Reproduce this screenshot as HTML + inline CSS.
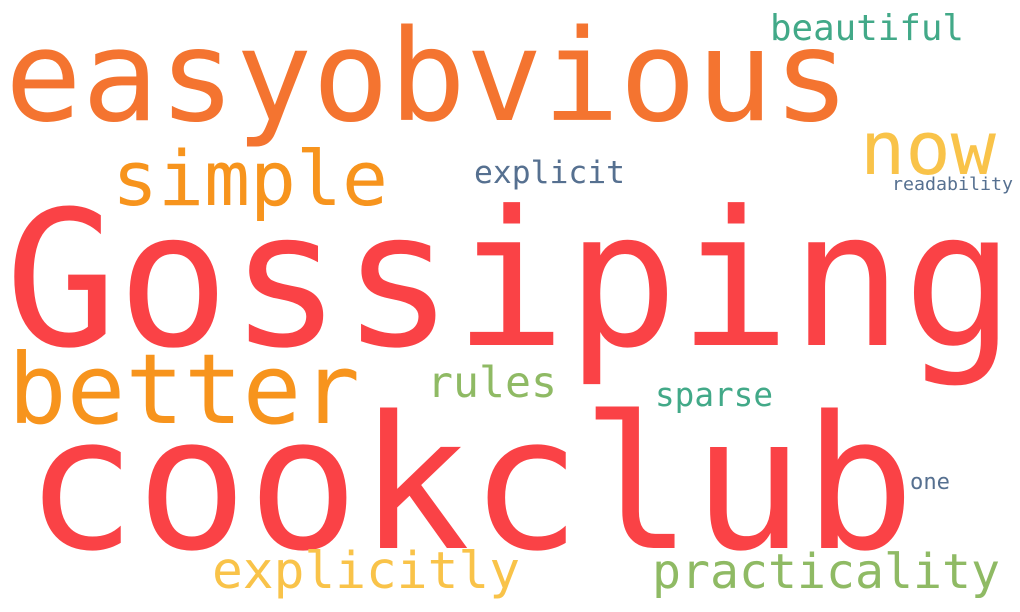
<!DOCTYPE html>
<html><head><meta charset="utf-8"><style>
html,body{margin:0;padding:0;background:#fff}
svg{display:block}
text{font-family:"DejaVu Sans Mono","Liberation Mono",monospace}
</style></head><body>
<svg width="1020" height="612" viewBox="0 0 1020 612">
<rect width="1020" height="612" fill="#fff"/>
<text x="5" y="120" font-size="127" fill="#F47430" textLength="845" lengthAdjust="spacingAndGlyphs">easyobvious</text>
<text x="770" y="40" font-size="36" fill="#42A988" textLength="194" lengthAdjust="spacingAndGlyphs">beautiful</text>
<text x="860" y="174" font-size="74" fill="#F9C349" textLength="136" lengthAdjust="spacingAndGlyphs">now</text>
<text x="112" y="205" font-size="76" fill="#F7941D" textLength="276" lengthAdjust="spacingAndGlyphs">simple</text>
<text x="474" y="183" font-size="31" fill="#567090" textLength="151" lengthAdjust="spacingAndGlyphs">explicit</text>
<text x="892" y="190" font-size="18" fill="#567090" textLength="121" lengthAdjust="spacingAndGlyphs">readability</text>
<text x="5" y="345" font-size="188" fill="#FA4246" textLength="1010" lengthAdjust="spacingAndGlyphs">Gossiping</text>
<text x="8" y="423" font-size="97" fill="#F7941D" textLength="352" lengthAdjust="spacingAndGlyphs">better</text>
<text x="427" y="397" font-size="43" fill="#8FBA64" textLength="130" lengthAdjust="spacingAndGlyphs">rules</text>
<text x="655" y="406" font-size="33" fill="#42A988" textLength="118" lengthAdjust="spacingAndGlyphs">sparse</text>
<text x="25" y="548" font-size="185" fill="#FA4246" textLength="890" lengthAdjust="spacingAndGlyphs">cookclub</text>
<text x="910" y="489" font-size="22" fill="#567090" textLength="40" lengthAdjust="spacingAndGlyphs">one</text>
<text x="212" y="588" font-size="51" fill="#F9C349" textLength="308" lengthAdjust="spacingAndGlyphs">explicitly</text>
<text x="652" y="588" font-size="48" fill="#8FBA64" textLength="348" lengthAdjust="spacingAndGlyphs">practicality</text>
</svg>
</body></html>
